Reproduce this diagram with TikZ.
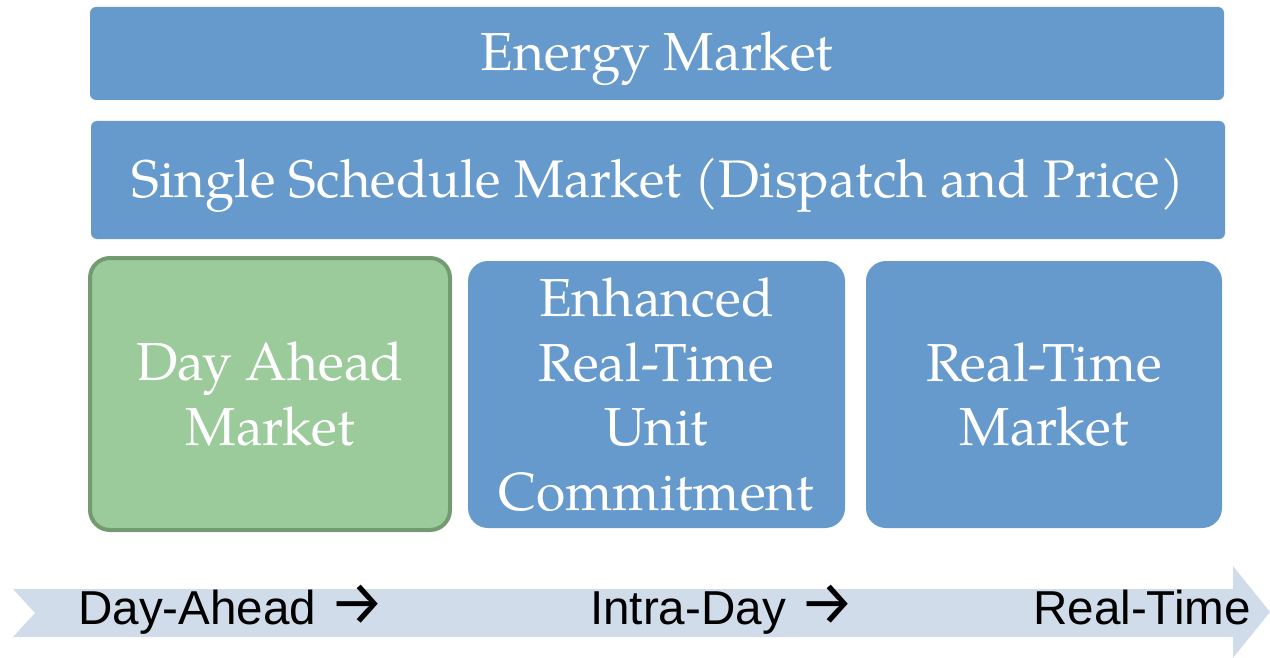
\documentclass[tikz,border=0pt]{standalone}
\usepackage{fontspec}
\usepackage{graphicx}
\newfontfamily\pal{TeX Gyre Pagella}
\newfontfamily\ars{Liberation Sans}
\newfontfamily\fira{Fira Sans}
\definecolor{boxblue}{RGB}{102,153,204}
\definecolor{boxgreen}{RGB}{155,203,154}
\definecolor{greenedge}{RGB}{115,154,113}
\definecolor{arrowfill}{RGB}{208,220,234}
\newcommand{\rarr}{\scalebox{1.3}{\fira →}}
\tikzset{
  wide/.style={fill=boxblue, rounded corners=6pt, inner sep=0pt, text=white,
    font=\pal\fontsize{53.5}{64}\selectfont, text height=35pt, text depth=0pt},
  tile/.style={fill=boxblue, rounded corners=20pt, inner sep=0pt, text=white, align=center,
    font=\pal\fontsize{53.5}{64.5}\selectfont},
  gtile/.style={tile, fill=boxgreen, draw=greenedge, line width=4pt},
  tl/.style={inner sep=0pt, anchor=base west, font=\ars\fontsize{47.6}{50}\selectfont, text=black}
}
\begin{document}
\begin{tikzpicture}[x=1pt,y=-1pt]
\useasboundingbox (0,0) rectangle (1270,658);
\fill[arrowfill] (13,589) -- (1233,589) -- (1233,566) -- (1270,612) -- (1233,658) -- (1233,637) -- (13,637) -- (35,613) -- cycle;
\node[wide, minimum width=1134pt, minimum height=93pt] (energy) at (657,53.5) {Energy Market};
\node[wide, minimum width=1134pt, minimum height=118pt, font=\pal\fontsize{52.9}{64}\selectfont] (single) at (658,180) {Single Schedule Market (Dispatch and Price)};
\node[gtile, minimum width=360pt, minimum height=272pt] (dam) at (270,394) {Day Ahead\\Market};
\node[tile, minimum width=377pt, minimum height=267pt] (ertuc) at (656.5,394.5) {Enhanced\\Real-Time\\Unit\\Commitment};
\node[tile, minimum width=356pt, minimum height=267pt] (rtm) at (1044,394.5) {Real-Time\\Market};
\node[tl] (t1) at (78,624) {Day-Ahead \rarr};
\node[tl] (t2) at (590,624) {Intra-Day \rarr};
\node[tl] (t3) at (1033,624) {Real-Time};
\end{tikzpicture}
\end{document}
